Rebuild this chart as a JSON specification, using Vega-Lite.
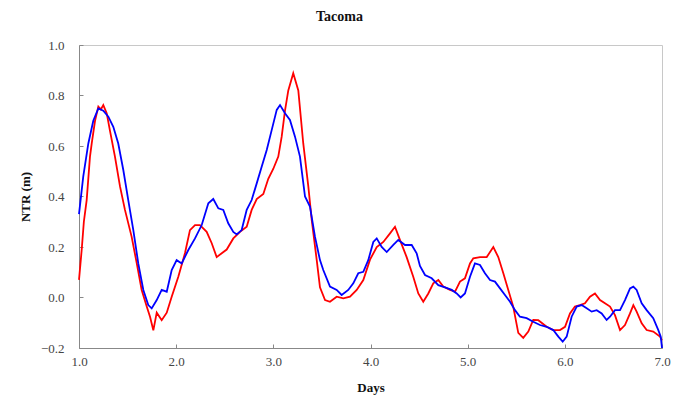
{
  "$schema": "https://vega.github.io/schema/vega-lite/v6.json",
  "width": 583,
  "height": 303,
  "autosize": {"type": "none"},
  "padding": {"left": 79, "top": 45, "right": 17, "bottom": 50},
  "background": "white",
  "config": {
    "view": {"stroke": "#c8c8c8", "strokeWidth": 1},
    "font": "Liberation Serif"
  },
  "title": {
    "text": "Tacoma",
    "font": "Liberation Serif",
    "fontSize": 14,
    "fontWeight": "bold",
    "color": "#111",
    "anchor": "middle",
    "dx": -31,
    "offset": 15
  },
  "datasets": {
    "obs": [
      {"day": 1.0, "ntr": 0.07}, {"day": 1.028, "ntr": 0.19}, {"day": 1.05, "ntr": 0.3}, {"day": 1.079, "ntr": 0.386},
      {"day": 1.113, "ntr": 0.558}, {"day": 1.131, "ntr": 0.61}, {"day": 1.165, "ntr": 0.70}, {"day": 1.199, "ntr": 0.756},
      {"day": 1.225, "ntr": 0.745}, {"day": 1.25, "ntr": 0.762}, {"day": 1.285, "ntr": 0.73}, {"day": 1.319, "ntr": 0.66},
      {"day": 1.37, "ntr": 0.558}, {"day": 1.422, "ntr": 0.44}, {"day": 1.473, "ntr": 0.347}, {"day": 1.542, "ntr": 0.24},
      {"day": 1.594, "ntr": 0.136}, {"day": 1.645, "ntr": 0.03}, {"day": 1.697, "ntr": -0.036}, {"day": 1.731, "ntr": -0.076},
      {"day": 1.765, "ntr": -0.13}, {"day": 1.8, "ntr": -0.06}, {"day": 1.851, "ntr": -0.09}, {"day": 1.903, "ntr": -0.06},
      {"day": 1.954, "ntr": 0.003}, {"day": 2.022, "ntr": 0.082}, {"day": 2.091, "ntr": 0.176}, {"day": 2.142, "ntr": 0.267},
      {"day": 2.194, "ntr": 0.287}, {"day": 2.245, "ntr": 0.287}, {"day": 2.314, "ntr": 0.26}, {"day": 2.366, "ntr": 0.215},
      {"day": 2.417, "ntr": 0.16}, {"day": 2.469, "ntr": 0.175}, {"day": 2.52, "ntr": 0.19}, {"day": 2.588, "ntr": 0.234},
      {"day": 2.657, "ntr": 0.26}, {"day": 2.726, "ntr": 0.28}, {"day": 2.777, "ntr": 0.347}, {"day": 2.829, "ntr": 0.39},
      {"day": 2.897, "ntr": 0.41}, {"day": 2.948, "ntr": 0.47}, {"day": 3.0, "ntr": 0.51}, {"day": 3.051, "ntr": 0.558},
      {"day": 3.086, "ntr": 0.637}, {"day": 3.12, "ntr": 0.74}, {"day": 3.154, "ntr": 0.82}, {"day": 3.205, "ntr": 0.888},
      {"day": 3.257, "ntr": 0.82}, {"day": 3.308, "ntr": 0.61}, {"day": 3.36, "ntr": 0.44}, {"day": 3.395, "ntr": 0.307},
      {"day": 3.446, "ntr": 0.15}, {"day": 3.48, "ntr": 0.04}, {"day": 3.532, "ntr": -0.01}, {"day": 3.583, "ntr": -0.017},
      {"day": 3.652, "ntr": 0.003}, {"day": 3.72, "ntr": -0.003}, {"day": 3.789, "ntr": 0.003}, {"day": 3.858, "ntr": 0.03},
      {"day": 3.926, "ntr": 0.069}, {"day": 3.995, "ntr": 0.15}, {"day": 4.064, "ntr": 0.2}, {"day": 4.132, "ntr": 0.22},
      {"day": 4.201, "ntr": 0.254}, {"day": 4.252, "ntr": 0.28}, {"day": 4.303, "ntr": 0.228}, {"day": 4.372, "ntr": 0.16},
      {"day": 4.44, "ntr": 0.082}, {"day": 4.492, "ntr": 0.016}, {"day": 4.543, "ntr": -0.017}, {"day": 4.595, "ntr": 0.016},
      {"day": 4.646, "ntr": 0.056}, {"day": 4.698, "ntr": 0.069}, {"day": 4.749, "ntr": 0.043}, {"day": 4.818, "ntr": 0.03},
      {"day": 4.87, "ntr": 0.023}, {"day": 4.921, "ntr": 0.063}, {"day": 4.972, "ntr": 0.076}, {"day": 5.024, "ntr": 0.135},
      {"day": 5.058, "ntr": 0.155}, {"day": 5.127, "ntr": 0.16}, {"day": 5.196, "ntr": 0.16}, {"day": 5.264, "ntr": 0.2},
      {"day": 5.315, "ntr": 0.16}, {"day": 5.367, "ntr": 0.096}, {"day": 5.418, "ntr": 0.03}, {"day": 5.469, "ntr": -0.036},
      {"day": 5.521, "ntr": -0.14}, {"day": 5.572, "ntr": -0.16}, {"day": 5.624, "ntr": -0.135}, {"day": 5.675, "ntr": -0.089},
      {"day": 5.727, "ntr": -0.09}, {"day": 5.813, "ntr": -0.116}, {"day": 5.881, "ntr": -0.129}, {"day": 5.95, "ntr": -0.129},
      {"day": 6.002, "ntr": -0.116}, {"day": 6.053, "ntr": -0.063}, {"day": 6.104, "ntr": -0.036}, {"day": 6.156, "ntr": -0.03},
      {"day": 6.207, "ntr": -0.023}, {"day": 6.259, "ntr": 0.003}, {"day": 6.31, "ntr": 0.016}, {"day": 6.362, "ntr": -0.01},
      {"day": 6.413, "ntr": -0.023}, {"day": 6.465, "ntr": -0.036}, {"day": 6.516, "ntr": -0.07}, {"day": 6.568, "ntr": -0.129},
      {"day": 6.619, "ntr": -0.109}, {"day": 6.671, "ntr": -0.063}, {"day": 6.705, "ntr": -0.03}, {"day": 6.739, "ntr": -0.056},
      {"day": 6.791, "ntr": -0.102}, {"day": 6.842, "ntr": -0.129}, {"day": 6.91, "ntr": -0.135}, {"day": 6.979, "ntr": -0.155},
      {"day": 7.0, "ntr": -0.17}
    ],
    "model": [
      {"day": 1.0, "ntr": 0.33}, {"day": 1.044, "ntr": 0.48}, {"day": 1.096, "ntr": 0.61}, {"day": 1.147, "ntr": 0.70},
      {"day": 1.199, "ntr": 0.749}, {"day": 1.25, "ntr": 0.74}, {"day": 1.302, "ntr": 0.716}, {"day": 1.353, "ntr": 0.676},
      {"day": 1.404, "ntr": 0.61}, {"day": 1.456, "ntr": 0.505}, {"day": 1.507, "ntr": 0.386}, {"day": 1.559, "ntr": 0.267},
      {"day": 1.61, "ntr": 0.135}, {"day": 1.662, "ntr": 0.03}, {"day": 1.713, "ntr": -0.03}, {"day": 1.748, "ntr": -0.043},
      {"day": 1.8, "ntr": -0.01}, {"day": 1.851, "ntr": 0.03}, {"day": 1.903, "ntr": 0.023}, {"day": 1.954, "ntr": 0.109},
      {"day": 2.005, "ntr": 0.148}, {"day": 2.057, "ntr": 0.135}, {"day": 2.125, "ntr": 0.188}, {"day": 2.194, "ntr": 0.234},
      {"day": 2.263, "ntr": 0.287}, {"day": 2.331, "ntr": 0.373}, {"day": 2.382, "ntr": 0.39}, {"day": 2.434, "ntr": 0.353},
      {"day": 2.485, "ntr": 0.347}, {"day": 2.536, "ntr": 0.294}, {"day": 2.588, "ntr": 0.26}, {"day": 2.623, "ntr": 0.25},
      {"day": 2.674, "ntr": 0.267}, {"day": 2.726, "ntr": 0.347}, {"day": 2.777, "ntr": 0.386}, {"day": 2.829, "ntr": 0.452},
      {"day": 2.88, "ntr": 0.518}, {"day": 2.932, "ntr": 0.584}, {"day": 2.983, "ntr": 0.663}, {"day": 3.035, "ntr": 0.743},
      {"day": 3.069, "ntr": 0.762}, {"day": 3.12, "ntr": 0.73}, {"day": 3.171, "ntr": 0.703}, {"day": 3.223, "ntr": 0.637},
      {"day": 3.274, "ntr": 0.558}, {"day": 3.326, "ntr": 0.40}, {"day": 3.377, "ntr": 0.36}, {"day": 3.429, "ntr": 0.24},
      {"day": 3.48, "ntr": 0.148}, {"day": 3.514, "ntr": 0.109}, {"day": 3.583, "ntr": 0.043}, {"day": 3.652, "ntr": 0.03},
      {"day": 3.703, "ntr": 0.01}, {"day": 3.771, "ntr": 0.03}, {"day": 3.823, "ntr": 0.056}, {"day": 3.874, "ntr": 0.096},
      {"day": 3.926, "ntr": 0.102}, {"day": 3.977, "ntr": 0.148}, {"day": 4.029, "ntr": 0.22}, {"day": 4.064, "ntr": 0.234},
      {"day": 4.115, "ntr": 0.2}, {"day": 4.167, "ntr": 0.18}, {"day": 4.235, "ntr": 0.208}, {"day": 4.286, "ntr": 0.228},
      {"day": 4.355, "ntr": 0.208}, {"day": 4.424, "ntr": 0.208}, {"day": 4.475, "ntr": 0.175}, {"day": 4.509, "ntr": 0.125},
      {"day": 4.561, "ntr": 0.089}, {"day": 4.63, "ntr": 0.076}, {"day": 4.698, "ntr": 0.049}, {"day": 4.767, "ntr": 0.04},
      {"day": 4.836, "ntr": 0.03}, {"day": 4.887, "ntr": 0.016}, {"day": 4.928, "ntr": 0.0}, {"day": 4.972, "ntr": 0.016},
      {"day": 5.024, "ntr": 0.082}, {"day": 5.075, "ntr": 0.135}, {"day": 5.127, "ntr": 0.129}, {"day": 5.178, "ntr": 0.096},
      {"day": 5.23, "ntr": 0.069}, {"day": 5.281, "ntr": 0.063}, {"day": 5.333, "ntr": 0.036}, {"day": 5.384, "ntr": 0.01},
      {"day": 5.436, "ntr": -0.017}, {"day": 5.487, "ntr": -0.05}, {"day": 5.538, "ntr": -0.076}, {"day": 5.607, "ntr": -0.082},
      {"day": 5.675, "ntr": -0.096}, {"day": 5.744, "ntr": -0.109}, {"day": 5.813, "ntr": -0.116}, {"day": 5.881, "ntr": -0.129},
      {"day": 5.933, "ntr": -0.155}, {"day": 5.978, "ntr": -0.175}, {"day": 6.019, "ntr": -0.155}, {"day": 6.07, "ntr": -0.076},
      {"day": 6.122, "ntr": -0.036}, {"day": 6.173, "ntr": -0.03}, {"day": 6.225, "ntr": -0.043}, {"day": 6.276, "ntr": -0.056},
      {"day": 6.328, "ntr": -0.05}, {"day": 6.379, "ntr": -0.063}, {"day": 6.43, "ntr": -0.089}, {"day": 6.465, "ntr": -0.076},
      {"day": 6.516, "ntr": -0.05}, {"day": 6.568, "ntr": -0.05}, {"day": 6.619, "ntr": -0.01}, {"day": 6.671, "ntr": 0.036},
      {"day": 6.705, "ntr": 0.043}, {"day": 6.739, "ntr": 0.03}, {"day": 6.791, "ntr": -0.023}, {"day": 6.842, "ntr": -0.05},
      {"day": 6.91, "ntr": -0.082}, {"day": 6.962, "ntr": -0.129}, {"day": 6.987, "ntr": -0.155}, {"day": 7.0, "ntr": -0.2}
    ]
  },
  "encoding": {
    "x": {
      "field": "day", "type": "quantitative",
      "scale": {"domain": [1, 7], "nice": false, "zero": false},
      "axis": {
        "title": "Days", "titleFont": "Liberation Serif", "titleFontSize": 13, "titleFontWeight": "bold", "titleColor": "#111",
        "titlePadding": 13,
        "values": [1, 2, 3, 4, 5, 6, 7], "format": ".1f",
        "labelFont": "Liberation Serif", "labelFontSize": 13, "labelColor": "#444", "labelPadding": 11,
        "grid": false, "domainColor": "#888", "tickColor": "#888", "tickSize": -4, "labelFlush": false
      }
    },
    "y": {
      "field": "ntr", "type": "quantitative",
      "scale": {"domain": [-0.2, 1.0], "nice": false, "zero": false},
      "axis": {
        "title": "NTR (m)", "titleFont": "Liberation Serif", "titleFontSize": 13, "titleFontWeight": "bold", "titleColor": "#111",
        "titleX": -54, "titleY": 151.5, "titleAlign": "center", "titleBaseline": "middle", "titleAngle": -90,
        "values": [-0.2, 0, 0.2, 0.4, 0.6, 0.8, 1.0], "format": ".1f",
        "labelFont": "Liberation Serif", "labelFontSize": 13, "labelColor": "#444", "labelPadding": 19,
        "grid": false, "domainColor": "#888", "tickColor": "#888", "tickSize": -4, "labelFlush": false
      }
    }
  },
  "layer": [
    {"data": {"name": "obs"}, "mark": {"type": "line", "color": "#ff0000", "strokeWidth": 1.8}},
    {"data": {"name": "model"}, "mark": {"type": "line", "color": "#0000ff", "strokeWidth": 1.8}}
  ]
}
